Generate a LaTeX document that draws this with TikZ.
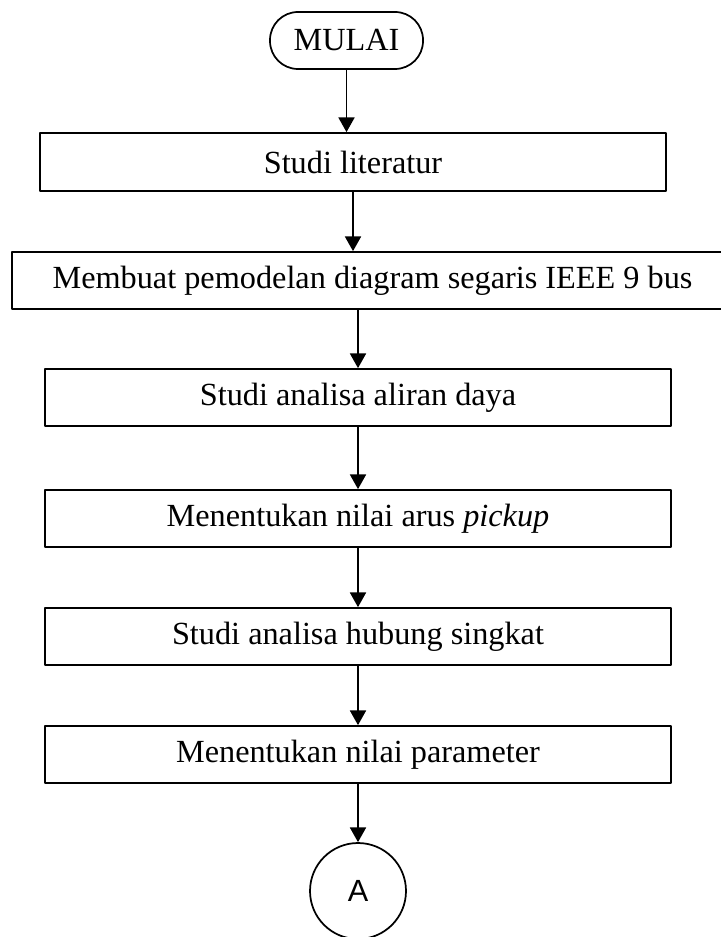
\documentclass[tikz,border=0pt]{standalone}
\usepackage{fontspec}
\setmainfont{Liberation Serif}
\newfontfamily\arialfont{Liberation Sans}
\usetikzlibrary{arrows.meta}

\begin{document}
\begin{tikzpicture}[line cap=round,line join=round,>={Triangle[length=11pt,width=12pt]},x=0.75pt,y=0.75pt,
    stepbox/.style={draw,line width=1.3pt,inner sep=0pt,font=\fontsize{24.2}{28}\selectfont},
    terminal/.style={stepbox,rounded corners=21pt,minimum width=114.75pt,minimum height=42.75pt},
    connector/.style={draw,circle,line width=1.3pt,minimum size=72pt,inner sep=0pt,font=\arialfont\fontsize{23}{26}\selectfont},
    flow/.style={->,line width=1.3pt}]
    \useasboundingbox (0,0) rectangle (720,-937);
    % start
    \node[terminal] (mulai) at (346.5,-40.5) {MULAI};
    % process steps
    \node[stepbox,minimum width=469.5pt,minimum height=43.5pt] (studi) at (353,-162) {Studi literatur};
    \node[stepbox,minimum width=540.75pt,minimum height=42.75pt] (model) at (372.5,-280.5) {Membuat pemodelan diagram segaris IEEE 9 bus};
    \node[stepbox,minimum width=469.5pt,minimum height=42.75pt] (aliran) at (358,-397.5) {Studi analisa aliran daya};
    \node[stepbox,minimum width=469.5pt,minimum height=42.75pt] (arus) at (358,-518.5) {Menentukan nilai arus \textit{pickup}};
    \node[stepbox,minimum width=469.5pt,minimum height=42.75pt] (hubung) at (358,-636.5) {Studi analisa hubung singkat};
    \node[stepbox,minimum width=469.5pt,minimum height=42.75pt] (param) at (358,-754.5) {Menentukan nilai parameter};
    % off-page connector
    \node[connector] (conA) at (358,-891) {A};
    % arrows
    \draw[flow] (mulai.south) -- (mulai.south |- studi.north);
    \draw[flow] (studi.south) -- (studi.south |- model.north);
    \draw[flow] (model.south -| aliran.north) -- (aliran.north);
    \draw[flow] (aliran.south) -- (arus.north);
    \draw[flow] (arus.south) -- (hubung.north);
    \draw[flow] (hubung.south) -- (param.north);
    \draw[flow] (param.south) -- (conA.north);
\end{tikzpicture}
\end{document}
